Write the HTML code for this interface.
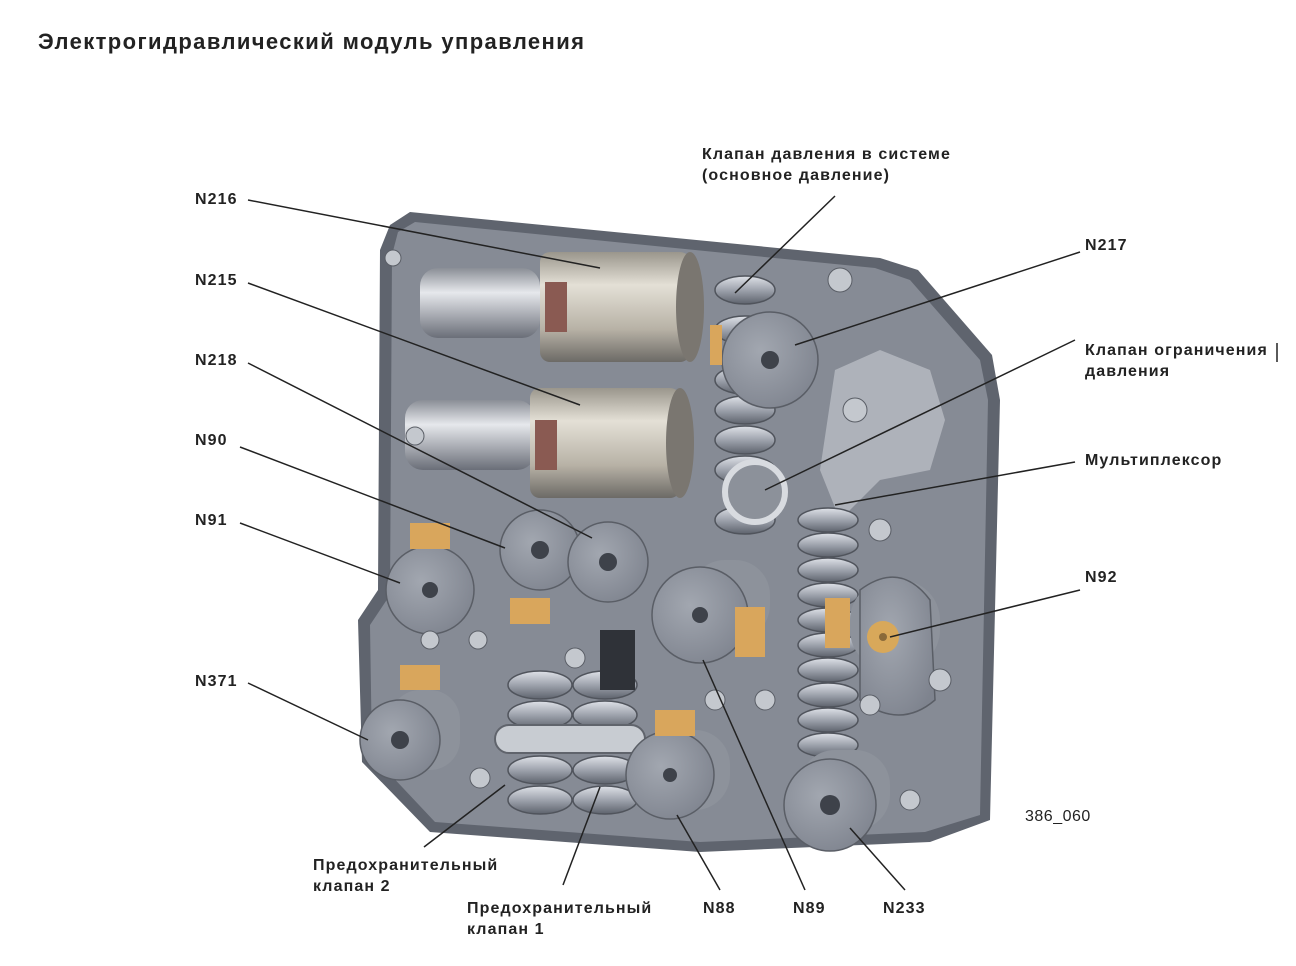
<!DOCTYPE html>
<html><head><meta charset="utf-8"><style>
html,body{margin:0;padding:0;background:#fff;}
body{width:1296px;height:966px;position:relative;overflow:hidden;font-family:"Liberation Sans",sans-serif;}
.t{position:absolute;font-weight:bold;font-size:16px;letter-spacing:1.1px;color:#222;line-height:21px;white-space:nowrap;}
</style></head><body>
<svg width="1296" height="966" style="position:absolute;left:0;top:0">
<defs>
<linearGradient id="cyl" x1="0" y1="0" x2="0" y2="1"><stop offset="0" stop-color="#9a968c"/><stop offset="0.3" stop-color="#e4e0d6"/><stop offset="0.7" stop-color="#b8b2a6"/><stop offset="1" stop-color="#6c6a66"/></linearGradient>
<linearGradient id="cyl2" x1="0" y1="0" x2="0" y2="1"><stop offset="0" stop-color="#8a8e96"/><stop offset="0.35" stop-color="#e6e8ec"/><stop offset="1" stop-color="#6a6e78"/></linearGradient>
<radialGradient id="disc" cx="0.4" cy="0.4" r="0.7"><stop offset="0" stop-color="#a2a7b0"/><stop offset="1" stop-color="#7e838e"/></radialGradient>
<linearGradient id="sp" x1="0" y1="0" x2="0" y2="1"><stop offset="0" stop-color="#dfe2e8"/><stop offset="0.5" stop-color="#9ea3ad"/><stop offset="1" stop-color="#5e636d"/></linearGradient>
</defs>
<polygon points="390,225 410,212 880,258 918,270 992,355 1000,400 990,820 930,842 700,852 430,832 362,762 358,620 378,590 380,250" fill="#5f646e"/>
<polygon points="398,232 415,222 875,268 910,280 980,360 988,400 980,815 925,832 700,842 435,822 372,755 370,625 390,595 392,255" fill="#868b95"/>
<polygon points="835,370 880,350 930,370 945,420 930,470 880,480 840,520 820,470" fill="#aeb2ba"/>
<g fill="url(#sp)" stroke="#50545c" stroke-width="1.5">
<ellipse cx="745" cy="290" rx="30" ry="14"/><ellipse cx="745" cy="330" rx="30" ry="14"/><ellipse cx="745" cy="380" rx="30" ry="14"/><ellipse cx="745" cy="410" rx="30" ry="14"/><ellipse cx="745" cy="440" rx="30" ry="14"/><ellipse cx="745" cy="470" rx="30" ry="14"/><ellipse cx="745" cy="520" rx="30" ry="14"/>
<ellipse cx="828" cy="520" rx="30" ry="12"/><ellipse cx="828" cy="545" rx="30" ry="12"/><ellipse cx="828" cy="570" rx="30" ry="12"/><ellipse cx="828" cy="595" rx="30" ry="12"/><ellipse cx="828" cy="620" rx="30" ry="12"/><ellipse cx="828" cy="645" rx="30" ry="12"/><ellipse cx="828" cy="670" rx="30" ry="12"/><ellipse cx="828" cy="695" rx="30" ry="12"/><ellipse cx="828" cy="720" rx="30" ry="12"/><ellipse cx="828" cy="745" rx="30" ry="12"/>
<ellipse cx="540" cy="685" rx="32" ry="14"/><ellipse cx="540" cy="715" rx="32" ry="14"/><ellipse cx="540" cy="770" rx="32" ry="14"/><ellipse cx="540" cy="800" rx="32" ry="14"/>
<ellipse cx="605" cy="685" rx="32" ry="14"/><ellipse cx="605" cy="715" rx="32" ry="14"/><ellipse cx="605" cy="770" rx="32" ry="14"/><ellipse cx="605" cy="800" rx="32" ry="14"/>
</g>
<rect x="495" y="725" width="150" height="28" rx="14" fill="#c8ccd2" stroke="#60646c" stroke-width="2"/>
<rect x="600" y="630" width="35" height="60" fill="#2f3238"/>
<rect x="420" y="268" width="120" height="70" rx="18" fill="url(#cyl2)"/>
<rect x="540" y="252" width="150" height="110" rx="10" fill="url(#cyl)"/>
<ellipse cx="690" cy="307" rx="14" ry="55" fill="#7a7670"/>
<rect x="545" y="282" width="22" height="50" fill="#8a5a52"/>
<rect x="405" y="400" width="130" height="70" rx="18" fill="url(#cyl2)"/>
<rect x="530" y="388" width="150" height="110" rx="10" fill="url(#cyl)"/>
<ellipse cx="680" cy="443" rx="14" ry="55" fill="#7a7670"/>
<rect x="535" y="420" width="22" height="50" fill="#8a5a52"/>
<g fill="#8d929b"><rect x="690" y="560" width="80" height="80" rx="35"/><rect x="850" y="580" width="90" height="90" rx="40"/><rect x="390" y="690" width="70" height="80" rx="30"/><rect x="640" y="730" width="90" height="80" rx="35"/><rect x="800" y="750" width="90" height="80" rx="35"/></g>
<g fill="url(#disc)" stroke="#5a5e66" stroke-width="1.5">
<circle cx="770" cy="360" r="48"/><circle cx="540" cy="550" r="40"/><circle cx="608" cy="562" r="40"/><circle cx="430" cy="590" r="44"/><circle cx="700" cy="615" r="48"/><circle cx="400" cy="740" r="40"/><circle cx="670" cy="775" r="44"/><circle cx="830" cy="805" r="46"/>
<path d="M860 590 Q900 560 930 600 L935 700 Q900 730 860 700 Z"/>
</g>
<circle cx="755" cy="492" r="30" fill="#8c919a" stroke="#d8dbe0" stroke-width="6"/>
<g fill="#3e424a"><circle cx="770" cy="360" r="9"/><circle cx="540" cy="550" r="9"/><circle cx="608" cy="562" r="9"/><circle cx="430" cy="590" r="8"/><circle cx="700" cy="615" r="8"/><circle cx="400" cy="740" r="9"/><circle cx="670" cy="775" r="7"/><circle cx="830" cy="805" r="10"/></g>
<circle cx="883" cy="637" r="16" fill="#d8a85a"/><circle cx="883" cy="637" r="4" fill="#8a6a3a"/>
<g fill="#d9a65c"><rect x="410" y="523" width="40" height="26"/><rect x="510" y="598" width="40" height="26"/><rect x="735" y="607" width="30" height="50"/><rect x="825" y="598" width="25" height="50"/><rect x="400" y="665" width="40" height="25"/><rect x="655" y="710" width="40" height="26"/><rect x="710" y="325" width="12" height="40"/></g>
<g fill="#c4c8ce" stroke="#5a5e66"><circle cx="840" cy="280" r="12"/><circle cx="855" cy="410" r="12"/><circle cx="880" cy="530" r="11"/><circle cx="940" cy="680" r="11"/><circle cx="870" cy="705" r="10"/><circle cx="575" cy="658" r="10"/><circle cx="480" cy="778" r="10"/><circle cx="765" cy="700" r="10"/><circle cx="715" cy="700" r="10"/><circle cx="910" cy="800" r="10"/><circle cx="415" cy="436" r="9"/><circle cx="393" cy="258" r="8"/><circle cx="430" cy="640" r="9"/><circle cx="478" cy="640" r="9"/></g>
<g stroke="#222" stroke-width="1.5" fill="none">
<line x1="248" y1="200" x2="600" y2="268"/>
<line x1="248" y1="283" x2="580" y2="405"/>
<line x1="248" y1="363" x2="592" y2="538"/>
<line x1="240" y1="447" x2="505" y2="548"/>
<line x1="240" y1="523" x2="400" y2="583"/>
<line x1="248" y1="683" x2="368" y2="740"/>
<line x1="424" y1="847" x2="505" y2="785"/>
<line x1="563" y1="885" x2="600" y2="787"/>
<line x1="720" y1="890" x2="677" y2="815"/>
<line x1="805" y1="890" x2="703" y2="660"/>
<line x1="905" y1="890" x2="850" y2="828"/>
<line x1="1080" y1="590" x2="890" y2="637"/>
<line x1="1075" y1="462" x2="835" y2="505"/>
<line x1="1075" y1="340" x2="765" y2="490"/>
<line x1="1080" y1="252" x2="795" y2="345"/>
<line x1="835" y1="196" x2="735" y2="293"/>
</g>
<line x1="1277" y1="343" x2="1277" y2="362" stroke="#222" stroke-width="1.5"/>
</svg>
<div class="t" style="left:38px;top:29px;font-size:22px;letter-spacing:1.4px;line-height:26px;">Электрогидравлический модуль управления</div>
<div class="t" style="left:702px;top:144px;">Клапан давления в системе<br>(основное давление)</div>
<div class="t" style="left:195px;top:189px;">N216</div>
<div class="t" style="left:195px;top:270px;">N215</div>
<div class="t" style="left:195px;top:350px;">N218</div>
<div class="t" style="left:195px;top:430px;">N90</div>
<div class="t" style="left:195px;top:510px;">N91</div>
<div class="t" style="left:195px;top:671px;">N371</div>
<div class="t" style="left:1085px;top:235px;">N217</div>
<div class="t" style="left:1085px;top:340px;">Клапан ограничения<br>давления</div>
<div class="t" style="left:1085px;top:450px;">Мультиплексор</div>
<div class="t" style="left:1085px;top:567px;">N92</div>
<div class="t" style="left:1025px;top:806px;font-weight:normal;letter-spacing:0.5px;">386_060</div>
<div class="t" style="left:313px;top:855px;">Предохранительный<br>клапан 2</div>
<div class="t" style="left:467px;top:898px;">Предохранительный<br>клапан 1</div>
<div class="t" style="left:703px;top:898px;">N88</div>
<div class="t" style="left:793px;top:898px;">N89</div>
<div class="t" style="left:883px;top:898px;">N233</div>
</body></html>
